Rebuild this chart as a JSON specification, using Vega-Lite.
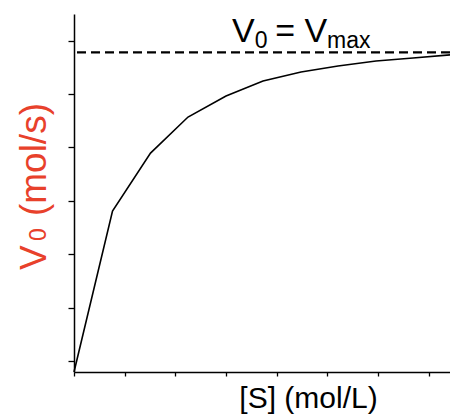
{
  "$schema": "https://vega.github.io/schema/vega-lite/v6.json",
  "width": 376,
  "height": 358,
  "autosize": {"type": "none"},
  "padding": {"left": 74, "top": 14, "right": 0, "bottom": 42},
  "background": "white",
  "config": {
    "view": {"stroke": null},
    "font": "Liberation Sans",
    "axis": {
      "grid": false,
      "labels": false,
      "domainColor": "black",
      "domainWidth": 1.5,
      "tickColor": "black",
      "tickWidth": 1.3
    }
  },
  "layer": [
    {
      "data": {"values": [
        {"x": 0, "y": -0.41},
        {"x": 1.52, "y": 5.62},
        {"x": 3.02, "y": 7.79},
        {"x": 4.5, "y": 9.14},
        {"x": 6.0, "y": 9.93},
        {"x": 7.46, "y": 10.49},
        {"x": 8.96, "y": 10.83},
        {"x": 10.42, "y": 11.05},
        {"x": 11.92, "y": 11.24},
        {"x": 13.38, "y": 11.35},
        {"x": 14.84, "y": 11.47}
      ]},
      "mark": {"type": "line", "color": "black", "strokeWidth": 1.6},
      "encoding": {
        "x": {
          "field": "x", "type": "quantitative",
          "scale": {"domain": [0, 14.84], "nice": false, "zero": false},
          "axis": {
            "values": [0,1,2,3,4,5,6,7,8,9,10,11,12,13,14],
            "tickSize": 4,
            "title": "[S] (mol/L)",
            "titleFont": "Liberation Sans",
            "titleFontSize": 30,
            "titleFontWeight": "normal",
            "titleColor": "black",
            "titleAlign": "center",
            "titleBaseline": "alphabetic",
            "titleX": 234,
            "titleY": 35
          }
        },
        "y": {
          "field": "y", "type": "quantitative",
          "scale": {"domain": [-0.41, 13], "nice": false, "zero": false},
          "axis": {
            "values": [0,1,2,3,4,5,6,7,8,9,10,11,12,13],
            "tickSize": 6,
            "title": null
          }
        }
      }
    },
    {
      "data": {"values": [{"y": 11.56}]},
      "mark": {"type": "rule", "color": "black", "strokeWidth": 2.2, "strokeDash": [9, 5]},
      "encoding": {"y": {"field": "y", "type": "quantitative"}}
    },
    {
      "data": {"values": [
        {"x": 6.24, "y": 11.95, "t": "V"},
        {"x": 7.94, "y": 11.95, "t": "= V"}
      ]},
      "mark": {"type": "text", "fontSize": 34, "align": "left", "baseline": "alphabetic", "color": "black", "font": "Liberation Sans"},
      "encoding": {
        "x": {"field": "x", "type": "quantitative"},
        "y": {"field": "y", "type": "quantitative"},
        "text": {"field": "t"}
      }
    },
    {
      "data": {"values": [
        {"x": 7.13, "y": 11.73, "t": "0"},
        {"x": 9.99, "y": 11.73, "t": "max"}
      ]},
      "mark": {"type": "text", "fontSize": 23, "align": "left", "baseline": "alphabetic", "color": "black", "font": "Liberation Sans"},
      "encoding": {
        "x": {"field": "x", "type": "quantitative"},
        "y": {"field": "y", "type": "quantitative"},
        "text": {"field": "t"}
      }
    },
    {
      "data": {"values": [
        {"x": -1.105, "y": 3.41, "t": "V"},
        {"x": -1.105, "y": 5.43, "t": "(mol/s)"}
      ]},
      "mark": {"type": "text", "fontSize": 37, "angle": 270, "align": "left", "baseline": "alphabetic", "color": "#E8412B", "font": "Liberation Sans"},
      "encoding": {
        "x": {"field": "x", "type": "quantitative"},
        "y": {"field": "y", "type": "quantitative"},
        "text": {"field": "t"}
      }
    },
    {
      "data": {"values": [
        {"x": -1.105, "y": 4.5, "t": "0"}
      ]},
      "mark": {"type": "text", "fontSize": 23, "angle": 270, "align": "left", "baseline": "alphabetic", "color": "#E8412B", "font": "Liberation Sans"},
      "encoding": {
        "x": {"field": "x", "type": "quantitative"},
        "y": {"field": "y", "type": "quantitative"},
        "text": {"field": "t"}
      }
    }
  ]
}
